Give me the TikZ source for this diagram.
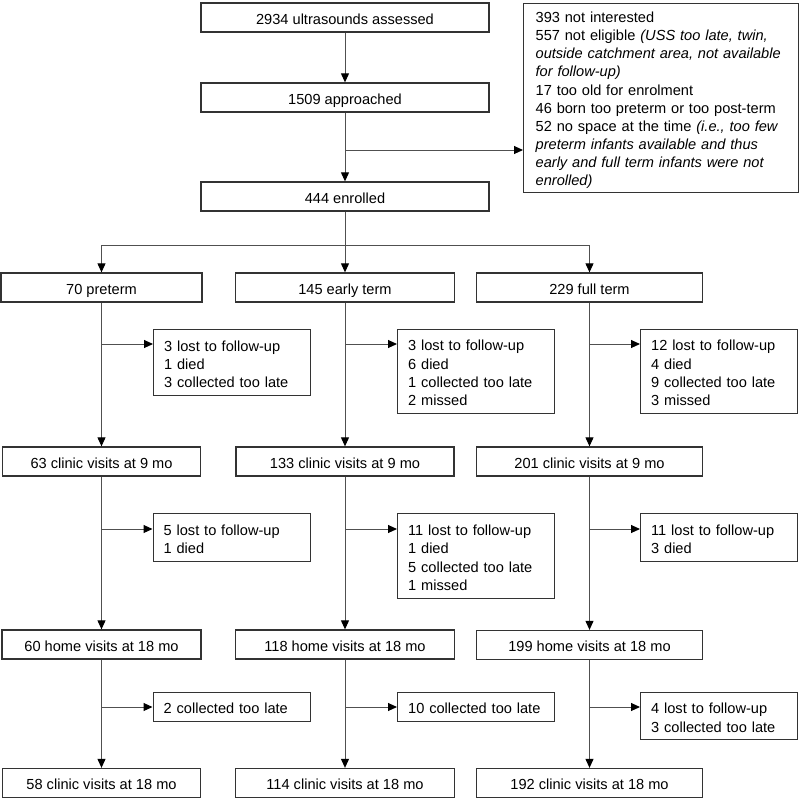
\documentclass[tikz,border=0pt]{standalone}
\usepackage{fontspec}
\setmainfont{Liberation Sans}
\usetikzlibrary{arrows.meta,positioning}
\definecolor{flowline}{HTML}{505050}
\definecolor{boxline}{HTML}{333333}
\tikzset{
  every picture/.style={line width=1pt},
  flowfont/.style={font=\fontsize{14.6}{18.3}\selectfont},
  mainbox/.style={flowfont, draw=boxline, line width=1.3pt, rectangle, inner sep=0pt,
                  minimum height=29pt, text height=13pt, text depth=0pt},
  outbox/.style={flowfont, draw=boxline, line width=1.3pt, rectangle, anchor=north west,
                 align=left, inner xsep=10.5pt, inner ysep=0pt, text width=136pt,
                 execute at begin node={\rule{0pt}{13.6pt}}},
  farr/.style={draw=flowline, -{Triangle[length=9pt,width=8pt,color=black]}},
}

\begin{document}
\begin{tikzpicture}[x=1pt,y=-1pt]
  \useasboundingbox (0,0) rectangle (800,801);
  % screening
  \node[mainbox, minimum width=288pt] (uss)  at (345,17.5)  {2934 ultrasounds assessed};
  \node[mainbox, minimum width=288pt] (appr) at (345,97.5)  {1509 approached};
  \node[mainbox, minimum width=288pt] (enr)  at (345,196.5) {444 enrolled};
  \node[outbox, font=\fontsize{14.6}{18.15}\selectfont, text width=251pt, inner xsep=12pt,
        minimum height=189pt, execute at begin node={\rule{0pt}{15pt}}] (excl) at (523,3) {%
    393 not interested\\
    557 not eligible \textit{(USS too late, twin,}\\
    \textit{outside catchment area, not available}\\
    \textit{for follow-up)}\\
    17 too old for enrolment\\
    46 born too preterm or too post-term\\
    52 no space at the time \textit{(i.e., too few}\\
    \textit{preterm infants available and thus}\\
    \textit{early and full term infants were not}\\
    \textit{enrolled)}};
  % groups
  \node[mainbox, minimum width=201pt] (pre)   at (101.5,287.5) {70 preterm};
  \node[mainbox, minimum width=219pt] (early) at (345,287.5)   {145 early term};
  \node[mainbox, minimum width=226pt] (full)  at (589.5,287.5) {229 full term};
  \node[mainbox, minimum width=198pt] (ninepre)   at (101.5,461.5) {63 clinic visits at 9 mo};
  \node[mainbox, minimum width=218pt] (nineearly) at (345,461.5)   {133 clinic visits at 9 mo};
  \node[mainbox, minimum width=226pt] (ninefull)  at (589.5,461.5) {201 clinic visits at 9 mo};
  \node[mainbox, minimum width=199pt] (homepre)   at (101.5,644.5) {60 home visits at 18 mo};
  \node[mainbox, minimum width=219pt] (homeearly) at (345,644.5)   {118 home visits at 18 mo};
  \node[mainbox, minimum width=226pt] (homefull)  at (589.5,645)   {199 home visits at 18 mo};
  \node[mainbox, minimum width=198pt] (clinpre)   at (101.5,783)   {58 clinic visits at 18 mo};
  \node[mainbox, minimum width=219pt] (clinearly) at (345,783)     {114 clinic visits at 18 mo};
  \node[mainbox, minimum width=226pt] (clinfull)  at (589.5,783)   {192 clinic visits at 18 mo};
  % losses
  \node[outbox, minimum height=66pt] (out1pre)   at (153,329) {3 lost to follow-up\\1 died\\3 collected too late};
  \node[outbox, minimum height=84pt] (out1early) at (397,329) {3 lost to follow-up\\6 died\\1 collected too late\\2 missed};
  \node[outbox, minimum height=84pt] (out1full)  at (640,329) {12 lost to follow-up\\4 died\\9 collected too late\\3 missed};
  \node[outbox, minimum height=48pt] (out2pre)   at (152.5,513) {5 lost to follow-up\\1 died};
  \node[outbox, minimum height=85pt] (out2early) at (397,513)   {11 lost to follow-up\\1 died\\5 collected too late\\1 missed};
  \node[outbox, minimum height=48pt] (out2full)  at (640,513)   {11 lost to follow-up\\3 died};
  \node[outbox, minimum height=29pt] (out3pre)   at (152.5,692) {2 collected too late};
  \node[outbox, minimum height=29pt] (out3early) at (397,692)   {10 collected too late};
  \node[outbox, minimum height=47pt] (out3full)  at (640,692)   {4 lost to follow-up\\3 collected too late};

  \draw[farr] (uss.south) -- (appr.north);
  \draw[farr] (appr.south) -- (enr.north);
  \coordinate (brx) at (345,150);
  \draw[farr] (brx) -- (brx -| excl.west);
  \coordinate (split) at (345,245);
  \draw[farr] (enr.south) -- (early.north);
  \draw[farr] (split) -| (pre.north);
  \draw[farr] (split) -| (full.north);
  \foreach \col/\x in {pre/101.5,early/345,full/589.5}{
    \draw[farr] (\col.south) -- (nine\col.north);
    \draw[farr] (nine\col.south) -- (home\col.north);
    \draw[farr] (home\col.south) -- (clin\col.north);
    \foreach \r/\y in {1/344,2/529,3/707}{
      \coordinate (br\r\col) at (\x,\y);
      \draw[farr] (br\r\col) -- (br\r\col -| out\r\col.west);
    }
  }
\end{tikzpicture}
\end{document}
